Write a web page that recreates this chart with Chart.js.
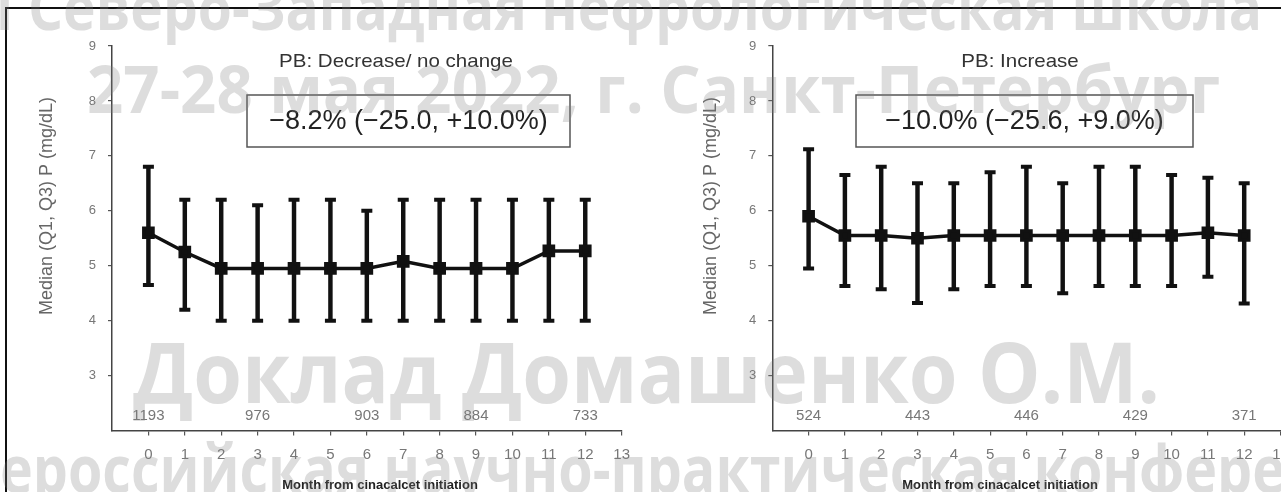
<!DOCTYPE html>
<html>
<head>
<meta charset="utf-8">
<script src="https://cdn.jsdelivr.net/npm/chart.js@4.4.1/dist/chart.umd.min.js"></script>
<style>
  html, body { margin: 0; padding: 0; background: #fff; }
  body { width: 1281px; height: 492px; overflow: hidden; position: relative; }
  canvas { position: absolute; top: 0; }
  #left { left: 0; }
  #right { left: 640px; }
  .frame { position: absolute; left: 5px; top: 7px; width: 1300px; height: 500px;
           border-left: 2px solid #111; border-top: 2px solid #111; }
  .wm { position: absolute; left: 0; top: 0; white-space: nowrap; font-family: "Open Sans"; font-weight: 700;
        color: rgba(128,128,128,0.27); line-height: 1; transform-origin: 0 0; }
</style>
</head>
<body>
<canvas id="left" width="640" height="492"></canvas>
<canvas id="right" width="700" height="492"></canvas>
<div class="frame"></div>
<div class="wm" id="wm1">I Северо-Западная нефрологическая школа</div>
<div class="wm" id="wm2">27-28 мая 2022, г. Санкт-Петербург</div>
<div class="wm" id="wm3">Доклад Домашенко О.М.</div>
<div class="wm" id="wm4">Всероссийская научно-практическая конференция</div>
<script>
// months since cinacalcet initiation
const months = [0, 1, 2, 3, 4, 5, 6, 7, 8, 9, 10, 11, 12];
const xTicks = [0, 1, 2, 3, 4, 5, 6, 7, 8, 9, 10, 11, 12, 13];
const yTicks = [3, 4, 5, 6, 7, 8, 9];

// PB: decrease / no change
const decMedian = [5.6, 5.25, 4.95, 4.95, 4.95, 4.95, 4.95, 5.08, 4.95, 4.95, 4.95, 5.27, 5.27];
const decQ1 = [4.65, 4.2, 4.0, 4.0, 4.0, 4.0, 4.0, 4.0, 4.0, 4.0, 4.0, 4.0, 4.0];
const decQ3 = [6.8, 6.2, 6.2, 6.1, 6.2, 6.2, 6.0, 6.2, 6.2, 6.2, 6.2, 6.2, 6.2];

// PB: increase
const incMedian = [5.9, 5.55, 5.55, 5.5, 5.55, 5.55, 5.55, 5.55, 5.55, 5.55, 5.55, 5.6, 5.55];
const incQ1 = [4.95, 4.63, 4.57, 4.32, 4.57, 4.63, 4.63, 4.5, 4.63, 4.63, 4.63, 4.8, 4.31];
const incQ3 = [7.12, 6.65, 6.8, 6.5, 6.5, 6.7, 6.8, 6.5, 6.8, 6.8, 6.65, 6.6, 6.5];

// patients at risk
const countMonths = [0, 3, 6, 9, 12];
const decCounts = [1193, 976, 903, 884, 733];
const incCounts = [524, 443, 446, 429, 371];

const FONT = '"Liberation Sans", Arial, sans-serif';

// titles, summary box, counts and axis titles
const notes = {
  id: 'notes',
  afterDraw(chart, args, o) {
    const { ctx, scales: { x } } = chart;
    ctx.save();
    ctx.textAlign = 'center';
    ctx.textBaseline = 'middle';

    ctx.fillStyle = '#777';
    ctx.font = '15px ' + FONT;
    countMonths.forEach((m, i) => ctx.fillText(String(o.counts[i]), x.getPixelForValue(m), 416));

    ctx.save();
    ctx.translate(o.titleX, 62);
    ctx.scale(1.08, 1);
    ctx.fillStyle = '#333';
    ctx.font = '19px ' + FONT;
    ctx.fillText(o.title, 0, 0);
    ctx.restore();

    ctx.strokeStyle = '#555';
    ctx.lineWidth = 1.5;
    ctx.strokeRect(o.box[0], 95, o.box[1] - o.box[0], 52);
    ctx.fillStyle = '#222';
    ctx.font = '27px ' + FONT;
    ctx.fillText(o.summary, (o.box[0] + o.box[1]) / 2, 122);

    ctx.fillStyle = '#222';
    ctx.font = 'bold 13px ' + FONT;
    ctx.fillText('Month from cinacalcet initiation', o.xTitleX, 485);

    ctx.translate(o.yTitleX, 206);
    ctx.rotate(-Math.PI / 2);
    ctx.fillStyle = '#666';
    ctx.font = '18px ' + FONT;
    ctx.fillText('Median (Q1, Q3) P (mg/dL)', 0, 0);
    ctx.restore();
  }
};

function panel(id, median, q1, q3, note, yWidth, padRight) {
  const caps = [];
  months.forEach((m, i) => { caps.push({ x: m, y: q1[i] }, { x: m, y: q3[i] }); });

  return new Chart(document.getElementById(id), {
    type: 'line',
    data: {
      datasets: [
        {
          data: months.map((m, i) => ({ x: m, y: median[i] })),
          borderColor: '#111', backgroundColor: '#111', borderWidth: 3.5,
          pointStyle: 'rect', pointRadius: 6.5, order: 0
        },
        {
          type: 'bar',
          data: months.map((m, i) => ({ x: m, y: [q1[i], q3[i]] })),
          backgroundColor: '#111', barThickness: 3.8, order: 2
        },
        {
          data: caps, showLine: false, pointStyle: 'line', pointRadius: 5.5,
          borderColor: '#111', borderWidth: 4, order: 1
        }
      ]
    },
    options: {
      responsive: false,
      animation: false,
      layout: { padding: { top: 46, right: padRight, left: 0, bottom: 0 } },
      plugins: { legend: { display: false }, tooltip: { enabled: false }, notes: note },
      scales: {
        x: {
          type: 'linear', min: -1, max: 13, offset: false,
          afterBuildTicks: s => { s.ticks = xTicks.map(v => ({ value: v })); },
          afterFit: s => { s.height = 61.5; },
          ticks: { color: '#777', font: { family: FONT, size: 15 }, padding: 10, autoSkip: false, maxRotation: 0 },
          grid: { drawOnChartArea: false, offset: false, tickLength: 5, color: '#555', lineWidth: 1.2 },
          border: { color: '#444', width: 1.5 }
        },
        y: {
          type: 'linear', min: 2, max: 9,
          afterBuildTicks: s => { s.ticks = yTicks.map(v => ({ value: v })); },
          afterFit: s => { s.width = yWidth; },
          ticks: { color: '#777', font: { family: FONT, size: 13 }, padding: 12 },
          grid: { drawOnChartArea: false, tickLength: 4, color: '#555', lineWidth: 1.2 },
          border: { color: '#444', width: 1.5 }
        }
      }
    },
    plugins: [notes]
  });
}

panel('left', decMedian, decQ1, decQ3, {
  counts: decCounts, title: 'PB: Decrease/ no change', titleX: 396,
  box: [247, 570], summary: '\u22128.2% (\u221225.0, +10.0%)', xTitleX: 380, yTitleX: 47
}, 112, 18.3);

panel('right', incMedian, incQ1, incQ3, {
  counts: incCounts, title: 'PB: Increase', titleX: 380,
  box: [216, 553], summary: '\u221210.0% (\u221225.6, +9.0%)', xTitleX: 360, yTitleX: 71
}, 132.3, 59.5);

// watermark lines: fit the visible part of each line between x0 and x1
const measure = document.createElement('canvas').getContext('2d');
function placeWatermark(id, size, baseline, skip, span, x0, x1) {
  const el = document.getElementById(id);
  measure.font = '700 ' + size + 'px "Open Sans"';
  const sx = (x1 - x0) / measure.measureText(span).width;
  const pre = skip ? measure.measureText(skip).width * sx : 0;
  el.style.fontSize = size + 'px';
  el.style.transform = 'translate(' + (x0 - pre) + 'px,' + (baseline - 0.888 * size) + 'px) scaleX(' + sx + ')';
}
placeWatermark('wm1', 62, 30, 'I ', 'Северо-Западная нефрологическая школа', 28, 1262);
placeWatermark('wm2', 67, 113, '', '27-28 мая 2022, г. Санкт-Петербург', 87, 1220);
placeWatermark('wm3', 85, 403, '', 'Доклад Домашенко О.М.', 133, 1160);
placeWatermark('wm4', 66, 493, 'Вс', 'ероссийская научно-практическая конфере', 0, 1285);
</script>
</body>
</html>
